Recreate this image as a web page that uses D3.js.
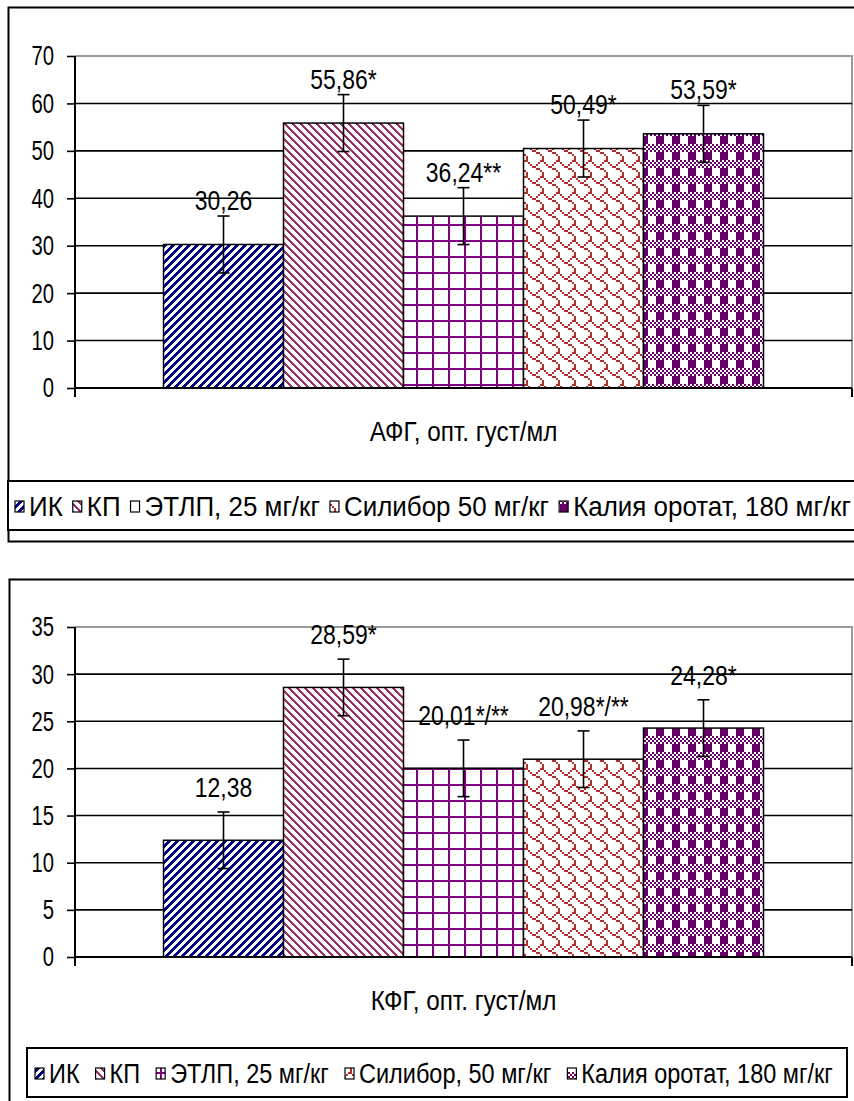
<!DOCTYPE html>
<html><head><meta charset="utf-8">
<script src="https://cdn.jsdelivr.net/npm/d3@7/dist/d3.min.js"></script>
<style>
body{margin:0;background:#fff}
svg text{font-family:"Liberation Sans",Arial,sans-serif;font-size:27px;fill:#000}
</style></head><body>
<svg id="c" width="854" height="1101"></svg>
<script>
// ---- data ----
const seriesTop = ["ИК", "КП", "ЭТЛП, 25 мг/кг", "Силибор 50 мг/кг", "Калия оротат, 180 мг/кг"];
const seriesBottom = ["ИК", "КП", "ЭТЛП, 25 мг/кг", "Силибор,  50 мг/кг", "Калия оротат, 180 мг/кг"];
const afgValues = [30.26, 55.86, 36.24, 50.49, 53.59];
const afgErrors = [6, 6, 6, 6, 6];
const afgLabels = ["30,26", "55,86*", "36,24**", "50,49*", "53,59*"];
const afgTicks = [0, 10, 20, 30, 40, 50, 60, 70];
const kfgValues = [12.38, 28.59, 20.01, 20.98, 24.28];
const kfgErrors = [3, 3, 3, 3, 3];
const kfgLabels = ["12,38", "28,59*", "20,01*/**", "20,98*/**", "24,28*"];
const kfgTicks = [0, 5, 10, 15, 20, 25, 30, 35];
const axisTitles = ["АФГ, опт. густ/мл", "КФГ, опт. густ/мл"];

// ---- styles ----
const patterns = [
  {id:"p0", color:"#000080", scale:1, rows:[0xF0,0xE1,0xC3,0x87,0x0F,0x1E,0x3C,0x78]},
  {id:"p1", color:"#993366", scale:1, rows:[0xE0,0x70,0x38,0x1C,0x0E,0x07,0x83,0xC1]},
  {id:"p2", color:"#800080", scale:2, rows:[0xFF,0x80,0x80,0x80,0x80,0x80,0x80,0x80]},
  {id:"p3", color:"#b0302c", scale:2, rows:[0x03,0x84,0x48,0x30,0x0C,0x02,0x01,0x01]},
  {id:"p4", color:"#660066", scale:2, rows:[0xAA,0x55,0xAA,0x55,0xF0,0xF0,0xF0,0xF0]}
];

const svg = d3.select("#c");
const defs = svg.append("defs");
patterns.forEach(pt => {
  const s = pt.scale, W = 8 * s;
  const p = defs.append("pattern").attr("id", pt.id).attr("patternUnits", "userSpaceOnUse")
    .attr("width", W).attr("height", W);
  p.append("rect").attr("width", W).attr("height", W).attr("fill", "#fff");
  pt.rows.forEach((r, y) => {
    for (let x = 0; x < 8; x++) {
      if (r & (0x80 >> x)) {
        p.append("rect").attr("x", x * s).attr("y", y * s).attr("width", s).attr("height", s)
          .attr("fill", pt.color).attr("shape-rendering", "crispEdges");
      }
    }
  });
});

// condense text horizontally (reference uses a narrow face)
function condense(sel, f) {
  sel.each(function () {
    const t = d3.select(this);
    const x = +t.attr("x") || 0, y = +t.attr("y") || 0;
    t.attr("x", 0).attr("y", 0).attr("transform", `translate(${x},${y}) scale(${f},1)`);
  });
}

function drawChart(cfg) {
  const g = svg.append("g");
  g.append("rect").attr("x", cfg.outer[0]).attr("y", cfg.outer[1]).attr("width", cfg.outer[2]).attr("height", cfg.outer[3])
    .attr("fill", "none").attr("stroke", "#000").attr("stroke-width", 2);

  const L = 75, R = 852, T = cfg.plotTop, B = cfg.plotBottom;
  const y = d3.scaleLinear().domain([0, d3.max(cfg.ticks)]).range([B, T]);
  const x = d3.scaleBand().domain(d3.range(cfg.values.length)).range([L, R]).paddingInner(0).paddingOuter(0.7375);

  g.append("path").attr("d", `M${L},${T}H${R}V${B}`).attr("fill", "none").attr("stroke", "#9a9a9a").attr("stroke-width", 2);
  g.selectAll(".grid").data(cfg.ticks.filter(t => t > 0 && t < d3.max(cfg.ticks))).join("line")
    .attr("x1", L).attr("x2", R).attr("y1", d => y(d)).attr("y2", d => y(d))
    .attr("stroke", "#000").attr("stroke-width", 1.6);

  g.selectAll(".bar").data(cfg.values).join("rect")
    .attr("x", (d, i) => x(i)).attr("width", x.bandwidth())
    .attr("y", d => y(d)).attr("height", d => y(0) - y(d))
    .attr("fill", (d, i) => `url(#${patterns[i].id})`).attr("stroke", "#000").attr("stroke-width", 1.5);

  const ax = g.append("g").attr("transform", `translate(${L},0)`)
    .call(d3.axisLeft(y).tickValues(cfg.ticks).tickSize(8).tickSizeOuter(0).tickPadding(13).tickFormat(d3.format("d")));
  ax.select(".domain").remove();
  ax.selectAll(".tick line").attr("stroke", "#000").attr("stroke-width", 1.6);
  ax.selectAll(".tick text").attr("font-size", null).attr("font-family", null).attr("dy", "0.33em").call(condense, 0.75);
  g.append("line").attr("x1", L).attr("x2", L).attr("y1", T).attr("y2", B + 9).attr("stroke", "#000").attr("stroke-width", 2);
  g.append("line").attr("x1", L).attr("x2", R).attr("y1", B).attr("y2", B).attr("stroke", "#000").attr("stroke-width", 2);
  g.append("line").attr("x1", R).attr("x2", R).attr("y1", B).attr("y2", B + 9).attr("stroke", "#000").attr("stroke-width", 2);

  const cx = i => x(i) + x.bandwidth() / 2;
  cfg.values.forEach((v, i) => {
    const e = cfg.errors[i];
    const eg = g.append("g").attr("stroke", "#000").attr("stroke-width", 1.6);
    eg.append("line").attr("x1", cx(i)).attr("x2", cx(i)).attr("y1", y(v + e)).attr("y2", y(v - e));
    eg.append("line").attr("x1", cx(i) - 6).attr("x2", cx(i) + 6).attr("y1", y(v + e)).attr("y2", y(v + e));
    eg.append("line").attr("x1", cx(i) - 6).attr("x2", cx(i) + 6).attr("y1", y(v - e)).attr("y2", y(v - e));
  });
  g.selectAll(".lbl").data(cfg.labels).join("text")
    .attr("x", (d, i) => cx(i)).attr("y", (d, i) => y(cfg.values[i] + cfg.errors[i]) - cfg.labelGap)
    .attr("text-anchor", "middle").text(d => d).call(condense, 0.85);

  g.append("text").attr("x", (L + R) / 2).attr("y", B + 53).attr("text-anchor", "middle").text(cfg.title).call(condense, 0.9);

  // legend
  const lb = cfg.legendBox;
  g.append("rect").attr("x", lb[0]).attr("y", lb[1]).attr("width", lb[2]).attr("height", lb[3])
    .attr("fill", "#fff").attr("stroke", "#000").attr("stroke-width", 2);
  const items = g.append("g");
  const iconW = 9, iconH = 11, iconGap = 5, itemGap = cfg.itemGap;
  const ty = lb[1] + lb[3] / 2 + 10;
  const texts = cfg.series.map(s => items.append("text").text(s));
  const widths = texts.map(t => t.node().getComputedTextLength());
  const avail = cfg.legendSpan[1] - cfg.legendSpan[0] - cfg.series.length * (iconW + iconGap) - (cfg.series.length - 1) * itemGap;
  const f = avail / d3.sum(widths);
  let cur = cfg.legendSpan[0];
  cfg.series.forEach((s, i) => {
    items.append("rect").attr("x", cur).attr("y", lb[1] + lb[3] / 2 - iconH / 2 + 1)
      .attr("width", iconW).attr("height", iconH)
      .attr("fill", `url(#${patterns[i].id})`).attr("stroke", "#000").attr("stroke-width", 1.2);
    cur += iconW + iconGap;
    texts[i].attr("transform", `translate(${cur},${ty}) scale(${f},1)`);
    cur += widths[i] * f + itemGap;
  });
}

drawChart({
  outer: [8.5, 7.5, 900, 534], plotTop: 56, plotBottom: 388,
  values: afgValues, errors: afgErrors, labels: afgLabels, ticks: afgTicks,
  labelGap: 6, title: axisTitles[0], series: seriesTop,
  legendBox: [8, 481, 900, 49], legendSpan: [15, 851], itemGap: 10
});
drawChart({
  outer: [9.5, 579.5, 900, 600], plotTop: 627, plotBottom: 957,
  values: kfgValues, errors: kfgErrors, labels: kfgLabels, ticks: kfgTicks,
  labelGap: 15, title: axisTitles[1], series: seriesBottom,
  legendBox: [27, 1048, 820, 49], legendSpan: [35, 833], itemGap: 16
});
</script>
</body></html>
